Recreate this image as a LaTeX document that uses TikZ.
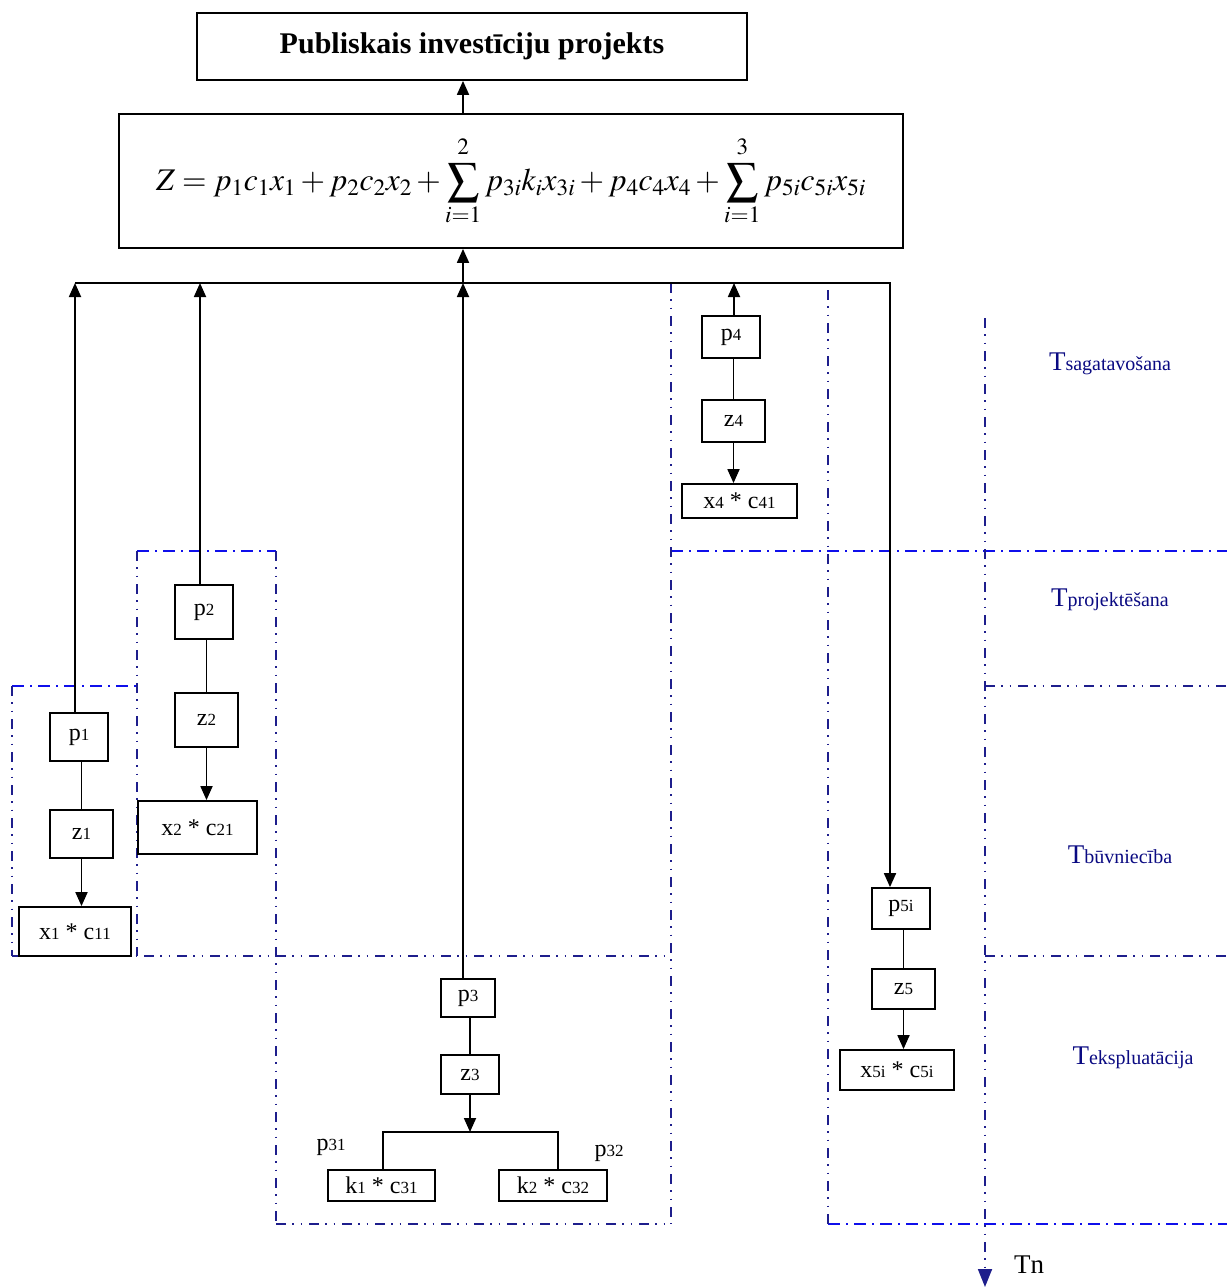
\documentclass[tikz,border=0pt]{standalone}
\usepackage{mathptmx}
\usepackage{fontspec}
\setmainfont{Liberation Serif}
\usetikzlibrary{arrows.meta}
\definecolor{navyln}{RGB}{30,30,140}
\definecolor{blueln}{RGB}{15,15,235}
\definecolor{navytx}{RGB}{10,10,130}
\newcommand\dg[1]{{\fontsize{17}{17}\selectfont #1}}
\newcommand\bigT{{\fontsize{27}{27}\selectfont T}}
\begin{document}
\begin{tikzpicture}[x=1pt,y=-1pt,
 box/.style={draw, fill=white, line width=1.8pt, inner sep=0pt, font=\fontsize{24}{26}\selectfont},
 conn/.style={line width=1.8pt},
 arr/.style={line width=1.8pt, -{Triangle[length=14pt,width=12pt]}},
 dd/.style={draw=navyln, line width=1.8pt, dash pattern=on 10pt off 6pt on 1.5pt off 7pt on 1.5pt off 7pt},
 dashdot/.style={draw=blueln, line width=2pt, dash pattern=on 12pt off 6pt on 2pt off 6pt},
 phase/.style={text=navytx, font=\fontsize{20}{22}\selectfont, inner sep=0pt},
 lbl/.style={inner sep=0pt, font=\fontsize{24}{26}\selectfont}]
\path[use as bounding box, fill=white] (0,0) rectangle (1227,1288);

% phase / group frames
\draw[dashdot] (12,686) -- (137,686);
\draw[dashdot] (137,551) -- (276,551);
\draw[dashdot] (671,551) -- (1227,551);
\draw[dashdot] (828,1224) -- (1227,1224);
\draw[dd] (12,686) -- (12,956);
\draw[dd] (12,956) -- (671,956);
\draw[dd] (137,551) -- (137,956);
\draw[dd] (276,551) -- (276,1224);
\draw[dd] (276,1224) -- (671,1224);
\draw[dd] (671,283) -- (671,1224);
\draw[dd] (828,290) -- (828,1224);
\draw[dd] (985,686) -- (1227,686);
\draw[dd] (985,956) -- (1227,956);
\coordinate (tn) at (985,1287);
\draw[dd, -{Triangle[length=18pt,width=14pt,fill=navyln]}] (985,318) -- (tn);

% nodes
\node[box, font=\bfseries\fontsize{30}{33}\selectfont, minimum width=550pt, minimum height=67pt] (title) at (472,46.5) {Publiskais investīciju projekts};
\node[box, minimum width=784pt, minimum height=134pt, font=\fontsize{31.5}{36}\selectfont] (formula) at (511,181)
 {$\displaystyle Z = p_1 c_1 x_1 + p_2 c_2 x_2 + \sum_{i=1}^{\rule[-5pt]{0pt}{0pt}2} p_{3i} k_i x_{3i} + p_4 c_4 x_4 + \sum_{i=1}^{\rule[-5pt]{0pt}{0pt}3} p_{5i} c_{5i} x_{5i}$};

\node[box, minimum width=58pt, minimum height=48pt] (p1) at (79,737) {p\dg{1}};
\node[box, minimum width=63pt, minimum height=48pt] (z1) at (81.5,834) {z\dg{1}};
\node[box, minimum width=112pt, minimum height=49pt] (x1) at (75,931.5) {x\dg{1} * c\dg{11}};

\node[box, minimum width=58pt, minimum height=54pt] (p2) at (204,612) {p\dg{2}};
\node[box, minimum width=63pt, minimum height=54pt] (z2) at (206.5,720) {z\dg{2}};
\node[box, minimum width=119pt, minimum height=53pt] (x2) at (197.5,827.5) {x\dg{2} * c\dg{21}};

\node[box, minimum width=54pt, minimum height=38pt] (p3) at (468,998) {p\dg{3}};
\node[box, minimum width=58pt, minimum height=39pt] (z3) at (470,1074.5) {z\dg{3}};
\node[box, minimum width=107pt, minimum height=31pt] (k1) at (381.5,1185.5) {k\dg{1} * c\dg{31}};
\node[box, minimum width=108pt, minimum height=31pt] (k2) at (553,1185.5) {k\dg{2} * c\dg{32}};
\node[lbl] (p31) at (331,1147) {p\dg{31}};
\node[lbl] (p32) at (609,1153) {p\dg{32}};

\node[box, minimum width=58pt, minimum height=42pt] (p4) at (731,337) {p\dg{4}};
\node[box, minimum width=63pt, minimum height=42pt] (z4) at (733.5,421) {z\dg{4}};
\node[box, minimum width=115pt, minimum height=34pt] (x4) at (739.5,501) {x\dg{4} * c\dg{41}};

\node[box, minimum width=58pt, minimum height=41pt] (p5) at (901,908.5) {p\dg{5i}};
\node[box, minimum width=63pt, minimum height=40pt] (z5) at (903.5,989) {z\dg{5}};
\node[box, minimum width=114pt, minimum height=40pt] (x5) at (897,1070) {x\dg{5i} * c\dg{5i}};

\node[phase] (ph1) at (1110,364) {\bigT sagatavošana};
\node[phase] (ph2) at (1110,600) {\bigT projektēšana};
\node[phase] (ph3) at (1120,855) {\bigT būvniecība};
\node[phase] (ph4) at (1133,1058) {\bigT ekspluatācija};
\node[lbl, font=\fontsize{27}{30}\selectfont] (tnl) at (1029,1265) {Tn};

% connectors
\coordinate (busL) at (75,283);
\coordinate (bus2) at (200,283);
\coordinate (bus3) at (463,283);
\coordinate (bus4) at (734,283);
\coordinate (busR) at (890,283);
\coordinate (brL) at (383,1132);
\coordinate (brM) at (470,1132);
\coordinate (brR) at (558,1132);

\draw[arr] (formula.north -| bus3) -- (title.south -| bus3);
\draw[arr] (bus3) -- (formula.south -| bus3);
\draw[arr] (busL) -- (busR) -- (p5.north -| busR);
\draw[arr] (p1.north -| busL) -- (busL);
\draw[arr] (p2.north -| bus2) -- (bus2);
\draw[arr] (p3.north -| bus3) -- (bus3);
\draw[arr] (p4.north -| bus4) -- (bus4);

\draw[conn] (p1.south -| z1.north) -- (z1.north);
\draw[arr] (z1.south) -- (x1.north -| z1.south);
\draw[conn] (p2.south -| z2.north) -- (z2.north);
\draw[arr] (z2.south) -- (x2.north -| z2.south);
\draw[conn] (p3.south -| z3.north) -- (z3.north);
\draw[arr] (z3.south) -- (brM);
\draw[conn] (k1.north -| brL) -- (brL) -- (brR) -- (k2.north -| brR);
\draw[conn] (p4.south -| z4.north) -- (z4.north);
\draw[arr] (z4.south) -- (x4.north -| z4.south);
\draw[conn] (p5.south -| z5.north) -- (z5.north);
\draw[arr] (z5.south) -- (x5.north -| z5.south);
\end{tikzpicture}
\end{document}
